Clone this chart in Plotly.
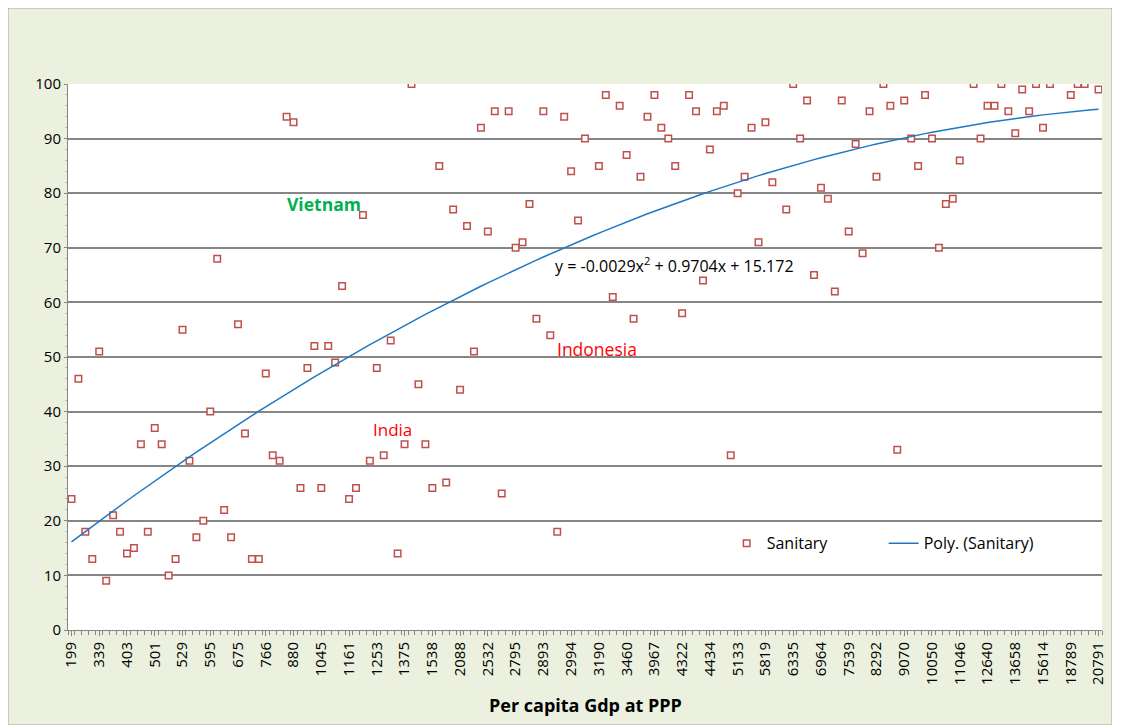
import numpy as np
import plotly.graph_objects as go

# ---- data ----
sanitary = [
    24, 46, 18, 13, 51, 9, 21, 18, 14, 15, 34, 18, 37, 34, 10, 13, 55, 31, 17, 20, 40, 68, 22, 17, 56,
    36, 13, 13, 47, 32, 31, 94, 93, 26, 48, 52, 26, 52, 49, 63, 24, 26, 76, 31, 48, 32, 53, 14, 34, 100,
    45, 34, 26, 85, 27, 77, 44, 74, 51, 92, 73, 95, 25, 95, 70, 71, 78, 57, 95, 54, 18, 94, 84, 75, 90,
    None, 85, 98, 61, 96, 87, 57, 83, 94, 98, 92, 90, 85, 58, 98, 95, 64, 88, 95, 96, 32, 80, 83, 92, 71,
    93, 82, None, 77, 100, 90, 97, 65, 81, 79, 62, 97, 73, 89, 69, 95, 83, 100, 96, 33, 97, 90, 85, 98, 90,
    70, 78, 79, 86, None, 100, 90, 96, 96, 100, 95, 91, 99, 95, 100, 92, 100, None, None, 98, 100, 100, None, 99,
]
gdp_tick_labels = [
    "199", "339", "403", "501", "529", "595", "675", "766", "880", "1045", "1161", "1253", "1375",
    "1538", "2088", "2532", "2795", "2893", "2994", "3190", "3460", "3967", "4322", "4434", "5133",
    "5819", "6335", "6964", "7539", "8292", "9070", "10050", "11046", "12640", "13658", "15614",
    "18789", "20791",
]
label_step = 4
poly_coef = [-0.0029, 0.9704, 15.172]  # printed trendline equation (x = 1..N)
y_ticks = list(range(0, 101, 10))

n = len(sanitary)
idx = np.arange(n)
trend = np.polyval(poly_coef, idx + 1)

FONT = "Open Sans"
RED = "#C0504D"
BLUE = "#1F77C4"

W, H = 1104, 717
ML, MR, MT, MB = 60, 10, 76, 95
PW, PH = W - ML - MR, H - MT - MB

fig = go.Figure()
fig.add_trace(go.Scatter(
    x=idx, y=sanitary, mode="markers", name="Sanitary",
    marker=dict(symbol="square", size=6.5, color="white", line=dict(color=RED, width=1.5)),
))
fig.add_trace(go.Scatter(
    x=idx, y=trend, mode="lines", name="Poly. (Sanitary)",
    line=dict(color=BLUE, width=1.5),
))

fig.update_layout(
    width=W, height=H,
    margin=dict(l=ML, r=MR, t=MT, b=MB, autoexpand=False),
    paper_bgcolor="#EBF1DE",
    plot_bgcolor="white",
    font=dict(family=FONT, size=14, color="black"),
    showlegend=True,
    legend=dict(
        orientation="h", x=0.637, y=0.19, xanchor="left", yanchor="top",
        bgcolor="rgba(0,0,0,0)", font=dict(family=FONT, size=16),
        entrywidth=112, entrywidthmode="pixels",
    ),
    xaxis=dict(
        range=[-0.5, n - 0.5],
        tickmode="array",
        tickvals=list(idx[::label_step]),
        ticktext=gdp_tick_labels,
        tickangle=-90,
        tickfont=dict(family=FONT, size=15),
        ticks="outside", ticklen=5, tickcolor="#868686",
        minor=dict(ticks="outside", ticklen=4, tickcolor="#868686", tick0=-0.5, dtick=1, showgrid=False),
        showgrid=False, zeroline=False,
        showline=True, linecolor="#868686", linewidth=1,
    ),
    yaxis=dict(
        range=[0, 100],
        tickvals=y_ticks,
        tickfont=dict(family=FONT, size=15),
        showgrid=True, gridcolor="#868686", gridwidth=1.5,
        zeroline=False,
        showline=True, linecolor="#868686", linewidth=1,
        ticks="outside", ticklen=3, tickcolor="#868686",
        minor=dict(ticks="outside", ticklen=2, dtick=2, tickcolor="#BBBBBB", showgrid=False),
    ),
    shapes=[
        dict(type="rect", xref="paper", yref="paper",
             x0=-ML / PW, x1=1 + MR / PW, y0=-MB / PH, y1=1 + MT / PH,
             line=dict(color="#A6A6A6", width=1), fillcolor="rgba(0,0,0,0)", layer="below"),
    ],
    annotations=[
        dict(text="<b>Per capita Gdp at PPP</b>", xref="paper", yref="paper", x=0.5, y=-75 / PH,
             showarrow=False, font=dict(family=FONT, size=18), xanchor="center", yanchor="middle"),
        dict(text="<b>Vietnam</b>", x=36.4, y=78, showarrow=False,
             font=dict(family=FONT, size=17.5, color="#00B050")),
        dict(text="India", x=46.3, y=36.8, showarrow=False,
             font=dict(family=FONT, size=17, color="#FF0000")),
        dict(text="Indonesia", x=75.8, y=51.5, showarrow=False,
             font=dict(family=FONT, size=17.5, color="#FF0000")),
        dict(text="y = -0.0029x<sup>2</sup> + 0.9704x + 15.172", x=86.9, y=66.8, showarrow=False,
             font=dict(family=FONT, size=16, color="black")),
    ],
)

fig.write_html("out.html")
